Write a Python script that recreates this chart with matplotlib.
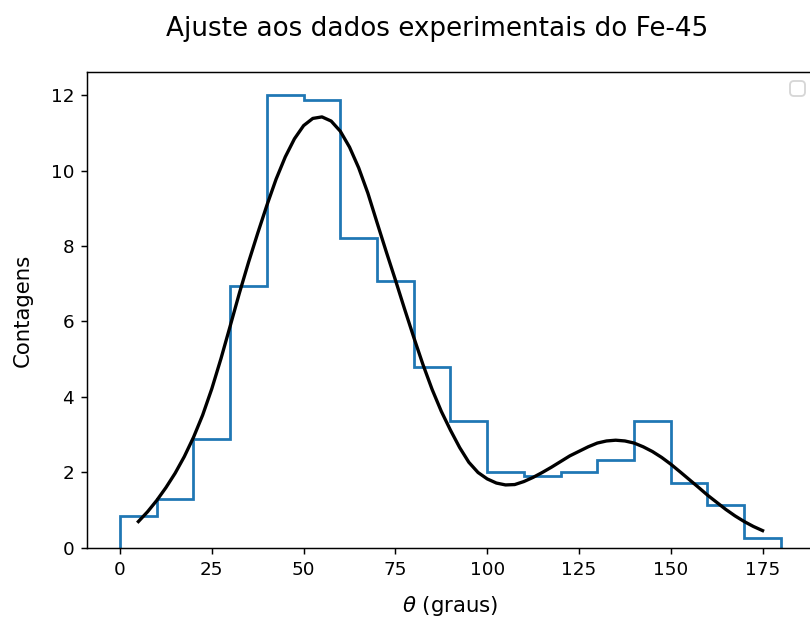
import matplotlib

matplotlib.use("Agg")

import matplotlib.pyplot as plt

# histogram of the Fe-45 counts (10 degree bins)
bin_edges = [0, 10, 20, 30, 40, 50, 60, 70, 80, 90, 100, 110, 120, 130, 140, 150, 160, 170, 180]
counts = [0.86, 1.31, 2.89, 6.95, 12.01, 11.88, 8.22, 7.06, 4.80, 3.36,
          2.02, 1.90, 2.02, 2.32, 3.36, 1.73, 1.15, 0.27]

# fitted curve
theta_fit = [5, 7.5, 10, 12.5, 15, 17.5, 20, 22.5, 25, 27.5, 30, 32.5, 35, 37.5,
             40, 42.5, 45, 47.5, 50, 52.5, 55, 57.5, 60, 62.5, 65, 67.5, 70, 72.5,
             75, 77.5, 80, 82.5, 85, 87.5, 90, 92.5, 95, 97.5, 100, 102.5, 105,
             107.5, 110, 112.5, 115, 117.5, 120, 122.5, 125, 127.5, 130, 132.5,
             135, 137.5, 140, 142.5, 145, 147.5, 150, 152.5, 155, 157.5, 160,
             162.5, 165, 167.5, 170, 172.5, 175]
counts_fit = [0.70, 0.96, 1.26, 1.60, 1.98, 2.42, 2.93, 3.52, 4.22, 5.02, 5.88, 6.75,
              7.57, 8.34, 9.08, 9.77, 10.36, 10.84, 11.19, 11.38, 11.42, 11.31, 11.04,
              10.62, 10.07, 9.40, 8.62, 7.85, 7.10, 6.33, 5.58, 4.86, 4.20, 3.62, 3.12,
              2.66, 2.27, 2.00, 1.83, 1.72, 1.67, 1.68, 1.76, 1.87, 2.00, 2.14, 2.29,
              2.44, 2.56, 2.68, 2.78, 2.835, 2.855, 2.835, 2.78, 2.68, 2.555, 2.40,
              2.22, 2.02, 1.815, 1.61, 1.40, 1.21, 1.02, 0.85, 0.70, 0.57, 0.46]

DPI = 132
fig = plt.figure(figsize=(810 / DPI, 621 / DPI), dpi=DPI)
# the right spine sits just past the edge of the picture
ax = fig.add_axes([0.1074, 0.1176, 0.8975, 0.7665])

centers = [(a + b) / 2 for a, b in zip(bin_edges[:-1], bin_edges[1:])]
ax.hist(centers, bins=bin_edges, weights=counts, histtype="step", color="#1f77b4", linewidth=1.5)
ax.plot(theta_fit, counts_fit, color="black", linewidth=1.8)

ax.set_xticks([0, 25, 50, 75, 100, 125, 150, 175])
ax.set_yticks([0, 2, 4, 6, 8, 10, 12])
ax.set_xlabel(r"$\theta$ (graus)", fontsize=11.6, labelpad=8.4)
ax.set_ylabel("Contagens", fontsize=11.6, labelpad=9.5)
ax.legend(handles=[], loc="upper right")

fig.suptitle("Ajuste aos dados experimentais do Fe-45", x=0.54, y=0.975, fontsize=14.3)

fig.savefig("out.png", dpi=DPI)
